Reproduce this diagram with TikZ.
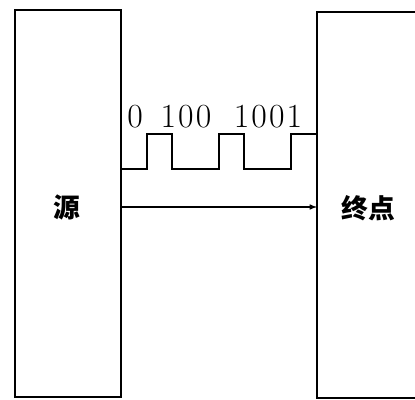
\documentclass[tikz,border=0pt]{standalone}
\usepackage{fontspec}
\newfontfamily\cjk{Noto Sans CJK SC}
\newcommand\bitgap{\kern1.5pt}
\tikzset{
  box/.style={draw, line width=1pt, minimum width=2.65cm, inner sep=0pt},
  bits/.style={font=\fontsize{24}{28}\selectfont, inner sep=0pt},
  cjklabel/.style={font=\cjk\bfseries\fontsize{19}{22}\selectfont, inner sep=0pt}
}

\begin{document}
\begin{tikzpicture}[x=0.025cm, y=-0.025cm]
   \useasboundingbox (0,0) rectangle (415,400);
   \node[box, minimum height=9.675cm] (src) at (68,203.5) {};
   \draw[line width=1pt] (418,12) -- (317,12) -- (317,398) -- (418,398);
   \coordinate (dst) at (317,207);
   \node[cjklabel] (srclabel) at (67,207) {源};
   \node[cjklabel] (dstlabel) at (368,208) {终点};
   % waveform
   \draw[line width=0.8pt] (src.east |- 0,169) -- (147,169) -- (147,134) -- (172,134)
      -- (172,169) -- (219,169) -- (219,134) -- (244,134) -- (244,169)
      -- (291,169) -- (291,134) -- (dst |- 0,134);
   \node[bits] (b0) at (135,117) {0};
   \node[bits] (b1) at (186,117) {1\bitgap0\bitgap0};
   \node[bits] (b2) at (268,117) {1\bitgap0\bitgap0\bitgap1};
   \draw[->, >=latex, line width=0.8pt] (src.east |- dst) -- (dst);
  \end{tikzpicture}
\end{document}
